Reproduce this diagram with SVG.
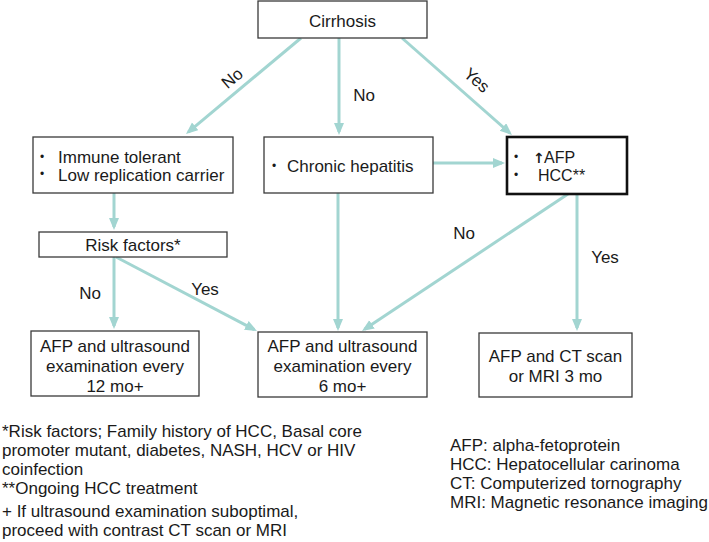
<svg xmlns="http://www.w3.org/2000/svg" width="709" height="542" viewBox="0 0 709 542">
<style>
text{font-family:"Liberation Sans",Arial,Helvetica,sans-serif;font-size:17px;fill:#1a1a1a}
.box{fill:#fff;stroke:#3a3a3a;stroke-width:1.3}
.bold{fill:#fff;stroke:#111;stroke-width:2.6}
.c{text-anchor:middle}
.bul{font-size:12px}
.s16{font-size:16px}
.conn line{stroke:#a2d5d1;stroke-width:3;marker-end:url(#ah)}
</style>
<defs>
<marker id="ah" markerUnits="userSpaceOnUse" markerWidth="13" markerHeight="11" refX="9" refY="5" orient="auto">
<path d="M0,0 L12,5 L0,10 z" fill="#a2d5d1"/>
</marker>
</defs>
<rect width="709" height="542" fill="#fff"/>
<g class="conn" id="connectors">
<line x1="301" y1="38" x2="188.3" y2="132.1"/>
<line x1="339" y1="38" x2="339" y2="132"/>
<line x1="402" y1="38" x2="509.7" y2="133"/>
<line x1="433" y1="163" x2="502" y2="163"/>
<line x1="114" y1="193" x2="114" y2="227"/>
<line x1="114" y1="257" x2="114" y2="326"/>
<line x1="116" y1="257" x2="254.3" y2="329.6"/>
<line x1="338" y1="193" x2="338" y2="328"/>
<line x1="568" y1="194" x2="364.5" y2="329.3"/>
<line x1="577" y1="194" x2="577" y2="328"/>
</g>
<g id="labels">
<text class="c" transform="translate(232,78) rotate(-40)" y="6">No</text>
<text class="c" x="364" y="101">No</text>
<text class="c" transform="translate(477,80) rotate(41)" y="6">Yes</text>
<text class="c" x="90" y="299">No</text>
<text class="c" x="205" y="295">Yes</text>
<text class="c" x="464" y="239">No</text>
<text class="c" x="605" y="263">Yes</text>
</g>
<g id="cirrhosis">
<rect class="box" x="258" y="1" width="169" height="37"/>
<text class="c" x="342.5" y="27">Cirrhosis</text>
</g>
<g id="immune">
<rect class="box" x="33" y="137" width="200" height="56"/>
<text class="bul" x="40" y="161">•</text>
<text x="58" y="163">Immune tolerant</text>
<text class="bul" x="40" y="178">•</text>
<text x="58" y="181">Low replication carrier</text>
</g>
<g id="chronic">
<rect class="box" x="264" y="137" width="169" height="56"/>
<text class="bul" x="272" y="170">•</text>
<text x="287" y="172">Chronic hepatitis</text>
</g>
<g id="hcc">
<rect class="bold" x="507" y="137" width="120" height="57"/>
<text class="bul" x="514" y="161">•</text>
<text x="533" y="163" style="font-family:'DejaVu Sans',sans-serif;font-weight:bold;font-size:14px">↑</text>
<text class="s16" x="544" y="163">AFP</text>
<text class="bul" x="514" y="179">•</text>
<text class="s16" x="538" y="181">HCC**</text>
</g>
<g id="risk">
<rect class="box" x="39" y="232" width="188" height="25"/>
<text class="c" x="133" y="251">Risk factors*</text>
</g>
<g id="every12">
<rect class="box" x="31" y="331" width="168" height="65"/>
<text class="c" x="115" y="352">AFP and ultrasound</text>
<text class="c" x="115" y="372">examination every</text>
<text class="c" x="115" y="392">12 mo+</text>
</g>
<g id="every6">
<rect class="box" x="258" y="332" width="169" height="65"/>
<text class="c" x="342.5" y="352">AFP and ultrasound</text>
<text class="c" x="342.5" y="372">examination every</text>
<text class="c" x="342.5" y="392">6 mo+</text>
</g>
<g id="ct3">
<rect class="box" x="479" y="333" width="153" height="64"/>
<text class="c" x="555.5" y="362">AFP and CT scan</text>
<text class="c" x="555.5" y="382">or MRI 3 mo</text>
</g>
<g id="footnotes">
<text x="2" y="437">*Risk factors; Family history of HCC, Basal core</text>
<text x="2" y="456">promoter mutant, diabetes, NASH, HCV or HIV</text>
<text x="2" y="475">coinfection</text>
<text x="2" y="494">**Ongoing HCC treatment</text>
<text x="2" y="517">+ If ultrasound examination suboptimal,</text>
<text x="2" y="536">proceed with contrast CT scan or MRI</text>
</g>
<g id="abbrev">
<text x="450" y="451">AFP: alpha-fetoprotein</text>
<text x="450" y="470">HCC: Hepatocellular carinoma</text>
<text x="450" y="489">CT: Computerized tornography</text>
<text x="450" y="508">MRI: Magnetic resonance imaging</text>
</g>
</svg>
